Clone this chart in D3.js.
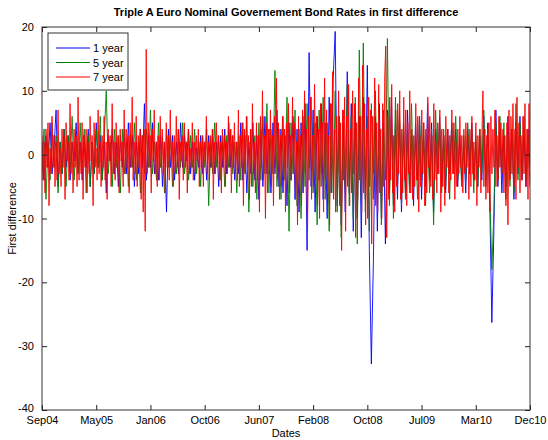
<!DOCTYPE html>
<html>
<head>
<meta charset="utf-8">
<script src="https://cdn.jsdelivr.net/npm/d3@7"></script>
<style>
  body { margin: 0; background: #fff; }
  text { font-family: Arial, "Liberation Sans", Helvetica, sans-serif; }
</style>
</head>
<body>
<div class="chart"></div>
<script>
const dateLabels = ['Sep04', 'May05', 'Jan06', 'Oct06', 'Jun07', 'Feb08', 'Oct08', 'Jul09', 'Mar10', 'Dec10'];
const yTicks = [20, 10, 0, -10, -20, -30, -40];
const seriesNames = ['1 year', '5 year', '7 year'];
const seriesColors = ['#0000ff', '#008000', '#ff0000'];

// 1 year (blue), sampled
const oneYear = [
  2,-4,3,-2,5,-3,1,7,-5,2,-3,4,-2,3,-4,2,-1,5,-3,2,
  -4,3,-2,4,-5,2,-3,5,-2,3,-4,2,-6,3,-1,4,-3,2,-5,3,
  -2,4,-3,5,-2,3,-5,2,-3,4,-2,8,-4,3,-2,5,-3,2,-4,3,
  -5,2,-9,4,-2,3,-4,2,-3,5,-2,3,-1,4,-3,2,-4,1,-2,3,
  -3,2,-4,3,-2,4,-3,2,-5,3,-2,4,-3,5,-2,3,-4,2,-3,5,
  -4,3,-6,2,-3,5,-4,3,-7,4,-5,6,-3,4,-6,5,-3,7,-5,4,
  -6,3,-8,5,-4,6,-7,4,-9,5,-6,8,-15,16,-5,7,-9,6,-4,8,
  -7,5,-10,9,-6,12,19.3,-8,6,-11,5,-9,13,-6,8,-12,7,-10,6,-13,
  9,-7,14,-15,-32.8,-17,6,-12,8,-10,5,-14,7,-6,9,-8,5,-7,6,-9,
  4,-6,7,-5,3,-8,5,-4,6,-7,3,-5,8,-4,5,-9,4,-3,6,-5,
  3,-6,4,-3,5,-2,4,-5,3,-4,2,-6,4,-3,5,-4,2,-5,3,-4,
  6,-4,5,-8,-26.3,-12,7,-5,4,-6,3,-5,6,-3,4,-7,5,-3,6,-4,
  3,-5,4,-2
];

// 5 year (green), sampled
const fiveYear = [
  -3,4,-7,2,-4,5,-2,3,-6,2,-3,4,-5,3,-2,6,-4,2,-3,5,
  -2,4,-6,3,-5,2,-3,4,-2,6,-4,3,10,-3,2,-5,4,-2,3,-6,
  4,-3,2,-5,3,-2,5,-4,2,-6,3,-3,4,-2,7,-3,2,-4,5,-2,
  3,-6,4,-2,3,-5,2,-3,4,-2,5,-3,2,-4,3,-2,4,-3,2,-5,
  3,-2,4,-8,2,-3,5,-2,3,-4,2,-5,3,-2,4,-3,2,-6,3,-4,
  5,-3,6,-9,4,-5,3,-7,5,-4,6,-3,8,-6,4,-3,13.2,-5,4,-7,
  6,-4,9,-12,5,-3,7,-8,4,-10,6,-5,8,-4,9,-6,5,-11,7,-5,
  9,-7,5,-12,8,-6,10,-9,6,-13,7,-5,11,-8,6,-10,9,-14,16.4,-7,
  17.5,-9,6,-12,8,-7,10,-6,5,-11,7,-4,18.2,-8,6,-10,9,-5,7,-8,
  5,-7,4,-6,8,-5,3,-7,6,-4,5,-8,3,-6,4,-11,7,-3,5,-6,
  4,-5,3,-7,5,-3,6,-4,2,-5,3,-4,5,-2,4,-6,3,-5,4,-3,
  7,-5,4,-6,-18,-9,5,-4,6,-3,5,-7,3,-5,4,-6,8,-4,5,-3,
  6,-4,3,-5
];

// 7 year (red), sampled
const sevenYear = [
  3,-4,2,-6,4,-2,5,-8,1,-3,6,-2,3,-5,2,-4,7,-3,1,-5,
  4,-2,3,-7,5,-1,2,-4,8,-3,2,-6,4,-2,3,-5,9,-4,2,-3,
  5,-7,3,-2,4,-6,2,-3,6,-1,3,-8,5,-2,1,-4,7,-3,2,-5,
  3,-2,6,-4,2,-7,4,-1,3,-5,8,-3,2,-4,5,-2,3,-6,4,-1,
  2,-5,7,-3,4,-2,3,-6,5,-2,9,-4,2,-3,6,-5,3,-2,4,-7,
  3,-9,4,-12,16.5,-3,5,-2,3,-6,4,-1,7,-3,2,-5,3,-4,6,-2,
  4,-3,2,-6,5,-2,3,-4,7,-1,2,-5,3,-3,6,-2,4,-7,2,-1,
  3,-4,5,-2,2,-6,4,-3,1,-2,5,-4,2,-3,3,-1,4,-5,2,-2,
  3,-5,2,-1,6,-3,2,-4,3,-2,4,-7,2,-3,5,-1,3,-4,2,-6,
  4,-2,3,-5,2,-3,6,-2,4,-6,3,-2,5,-3,2,-4,7,-5,3,-2,
  5,-8,4,-3,6,-2,3,-7,4,-5,8,-3,2,-6,5,-4,3,-9,6,-2,
  10,-4,3,-10,5,-6,4,-3,7,-5,3,-8,6,-2,12,-4,5,-7,3,-5,
  6,-3,4,-9,5,-2,8,-6,3,-4,9,-3,5,-7,2,-11,6,-4,3,-8,
  7,-5,10,-3,4,-12,6,-2,9,-7,3,-5,11,-4,6,-8,4,-10,8,-3,
  5,-9,12,-4,7,-6,3,-11,8,-5,13,-7,4,-9,6,-3,10,-8,5,-15,
  7,-4,9,-12,6,-5,11,-8,4,-6,10,-3,8,-13,5,-7,12,-4,6,-9,
  14,-6,8,-11,4,-10,9,-5,7,-14,6,-3,12,-8,5,-9,11,-6,4,-10,
  8,-5,12,17,-13,6,-7,9,-4,11,-6,3,-9,7,-5,8,-3,10,-7,4,
  -6,9,-4,7,-8,5,-3,10,-6,4,-7,3,-5,8,-4,6,-9,3,-5,7,
  -3,5,-8,4,-6,9,-2,6,-5,3,-7,8,-4,2,-6,5,-3,7,-9,4,
  -5,3,-8,6,-2,4,-6,3,-4,7,-3,5,-7,2,-5,4,-3,6,-2,3,
  -6,4,-3,5,-2,3,-7,4,-5,6,-3,2,-4,5,-8,3,-2,4,-6,3,
  10,-5,4,-7,3,-6,5,-9,6,-3,4,-2,7,-5,3,-4,6,-2,5,-3,
  4,-6,3,-8,5,-11,7,-4,6,-3,8,-5,4,-7,9,-2,5,-6,3,-4,
  6,-3,8,-5,4,-7,8,-2
];

const series = [oneYear, fiveYear, sevenYear];

const width = 548, height = 440;
const margin = {top: 27, right: 18, bottom: 30, left: 42};
const plotW = width - margin.left - margin.right;
const plotH = height - margin.top - margin.bottom;

const svg = d3.select('.chart').append('svg')
  .attr('width', width)
  .attr('height', height);

// x runs over the sample as a fraction 0..1, date labels evenly spaced
const x = d3.scaleLinear().domain([0, 1]).range([margin.left, margin.left + plotW]);
const y = d3.scaleLinear().domain([-40, 20]).range([margin.top + plotH, margin.top]);
const tickPos = dateLabels.map((d, i) => i / (dateLabels.length - 1));

svg.append('defs').append('clipPath').attr('id', 'clip')
  .append('rect')
  .attr('x', margin.left).attr('y', margin.top)
  .attr('width', plotW).attr('height', plotH);

const lines = svg.append('g').attr('clip-path', 'url(#clip)');

series.forEach((vals, k) => {
  const line = d3.line()
    .x((d, i) => x(i / (vals.length - 1)))
    .y(d => y(d));
  lines.append('path')
    .datum(vals)
    .attr('d', line)
    .attr('fill', 'none')
    .attr('stroke', seriesColors[k])
    .attr('stroke-width', 0.9);
});

// axes, ticks inward like MATLAB
const xBottom = d3.axisBottom(x).tickValues(tickPos).tickFormat((d, i) => dateLabels[i]).tickSizeInner(-5).tickSizeOuter(0).tickPadding(10);
const xTop = d3.axisTop(x).tickValues(tickPos).tickFormat('').tickSizeInner(-5).tickSizeOuter(0);
const yLeft = d3.axisLeft(y).tickValues(yTicks).tickFormat(d => String(d)).tickSizeInner(-5).tickSizeOuter(0).tickPadding(8);
const yRight = d3.axisRight(y).tickValues(yTicks).tickFormat('').tickSizeInner(-5).tickSizeOuter(0);

const gx = svg.append('g').attr('transform', `translate(0,${margin.top + plotH})`).call(xBottom);
svg.append('g').attr('transform', `translate(0,${margin.top})`).call(xTop);
const gy = svg.append('g').attr('transform', `translate(${margin.left},0)`).call(yLeft);
svg.append('g').attr('transform', `translate(${margin.left + plotW},0)`).call(yRight);

svg.selectAll('.domain').remove();
svg.selectAll('.tick line').attr('stroke', '#222');
svg.selectAll('.tick text').attr('font-size', 11).attr('fill', '#000');
gx.selectAll('.tick text').attr('dy', '0.4em');
// lift the lowest y label a little so it clears the first date label
gy.selectAll('.tick text').filter(d => d === -40).attr('dy', '0.1em');

svg.append('rect')
  .attr('x', margin.left).attr('y', margin.top)
  .attr('width', plotW).attr('height', plotH)
  .attr('fill', 'none').attr('stroke', '#333').attr('stroke-width', 1);

// labels
svg.append('text')
  .attr('x', margin.left + plotW / 2).attr('y', 16)
  .attr('text-anchor', 'middle')
  .attr('font-size', 11).attr('font-weight', 'bold')
  .text('Triple A Euro Nominal Governement Bond Rates in first difference');

svg.append('text')
  .attr('x', margin.left + plotW / 2).attr('y', 437)
  .attr('text-anchor', 'middle')
  .attr('font-size', 11)
  .text('Dates');

svg.append('text')
  .attr('transform', `translate(16,${margin.top + plotH / 2}) rotate(-90)`)
  .attr('text-anchor', 'middle')
  .attr('font-size', 11)
  .text('First difference');

// legend
const legend = svg.append('g').attr('transform', 'translate(48,33)');
legend.append('rect')
  .attr('width', 80).attr('height', 57)
  .attr('fill', '#fff').attr('stroke', '#333');
seriesNames.forEach((name, i) => {
  const ly = 15 + i * 14.5;
  legend.append('line')
    .attr('x1', 8).attr('x2', 42).attr('y1', ly).attr('y2', ly)
    .attr('stroke', seriesColors[i]);
  legend.append('text')
    .attr('x', 45).attr('y', ly + 4)
    .attr('font-size', 11)
    .text(name);
});
</script>
</body>
</html>
